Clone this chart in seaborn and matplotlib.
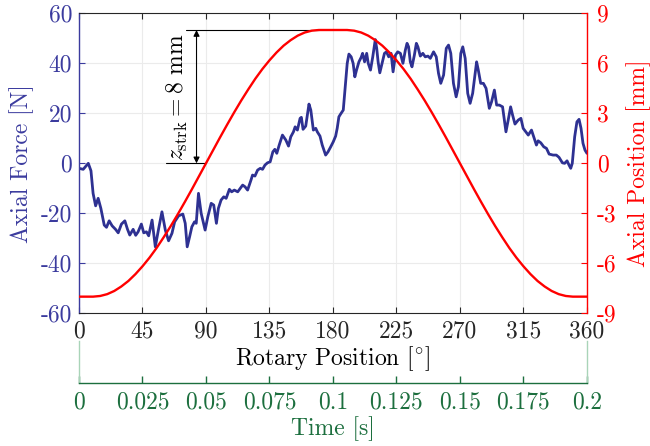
import numpy as np
import pandas as pd
import matplotlib
matplotlib.use("Agg")
import matplotlib.pyplot as plt
import seaborn as sns

# Rotary position [deg] and measured axial force [N]
force_angle = [
    0, 3, 6.6, 8.5, 10, 11.8, 13.6, 15.5, 17.9, 19.5, 21.4, 23.5, 25.9, 27.8,
    30.1, 32.5, 34.4, 36, 38.4, 40.2, 41.9, 44.2, 45.9, 47.8, 49.4, 51.8, 54.1,
    56.5, 58.8, 61.2, 63.5, 65.9, 67.8, 70.6, 73.6, 75.3, 76.7, 78.4, 80, 81.9,
    83.1, 84.7, 86.6, 89.4, 91.3, 93.7, 95.5, 97.4, 98.8, 100.7, 102.6, 104.3,
    106.6, 108.2, 110.1, 112.5, 114.3, 116, 117.7, 119.5, 121.9, 123, 124.7,
    126.6, 128.5, 130.1, 131.8, 133.6, 135.5, 137.4, 138.8, 140.2, 141.9, 144.2,
    146.6, 148.5, 150.1, 152, 153.2, 154.8, 156.7, 157.6, 158.8, 160.7, 163,
    164.3, 166.1, 167.8, 168.9, 170.8, 172.4, 174.8, 176.5, 178.4, 180.2, 181.9,
    183, 184.2, 185.4, 187.3, 188.5, 190.1, 191.3, 192.9, 194.3, 195.5, 196.7,
    198.4, 200, 201, 202.4, 203.9, 205, 206.6, 208.2, 210, 211, 212, 213.2,
    214.8, 216.5, 217.9, 219.5, 221.2, 222.6, 224.3, 225.9, 227.8, 229.6, 231.3,
    232.5, 233.6, 234.8, 236, 237.7, 239.1, 240.2, 241.9, 243.7, 245.4, 247.3,
    249, 251.3, 253.2, 254.8, 256.4, 258.4, 260.3, 261.9, 263.5, 265.4, 267.3,
    268.9, 270.6, 272, 273.7, 275.5, 277.2, 279, 281.8, 283, 284.7, 286.6, 288.5,
    290.8, 292.4, 294.4, 296, 297.9, 300.2, 302.6, 304.2, 305.9, 307.3, 309,
    311.3, 313.2, 314.8, 317.2, 318.4, 320.7, 322.6, 324.2, 325.4, 327.3, 329.4,
    331.3, 333.2, 336, 338.3, 340.2, 342.6, 344.2, 345.9, 347.3, 348.5, 349.6,
    351.3, 352.9, 354.4, 355.8, 357.2, 358.6, 360,
]
axial_force = [
    -2.0, -2.4, 0, -3, -12, -17, -14, -18, -24.7, -25.6, -23, -25, -26.4, -27.8,
    -24.3, -23, -26.4, -28.7, -26.4, -28.8, -27.4, -24.3, -27.8, -27.4, -29,
    -22.7, -33.4, -26, -19.4, -26.7, -31, -28, -23.4, -21, -20.3, -24, -33.4,
    -29.4, -25.4, -23.4, -24, -12, -20, -26.7, -21.4, -16, -16.7, -24, -18,
    -14.7, -13.4, -14, -10.4, -11.4, -10.7, -11.4, -10, -8.7, -9.4, -10.7, -6.7,
    -4.7, -5.1, -2.7, -2, -2.4, -0.7, 0.2, 0.6, 4.6, 5.6, 4, 7.3, 11.3, 9.3, 6.9,
    10.6, 12.6, 14.6, 13.3, 18, 18.4, 13.6, 14.9, 23.7, 21.3, 13.3, 14, 12.6,
    10.9, 7.3, 3.3, 4.6, 6.6, 8.6, 10.9, 14, 18.6, 19.7, 21.3, 29.3, 40, 43.7,
    42.6, 40, 34.6, 37.3, 40.6, 42.4, 44, 40.6, 44, 40, 37.3, 42.6, 49.5, 46,
    40.6, 36.2, 40, 44, 44.6, 42.6, 44, 36.6, 43.3, 44.6, 44, 40, 45.3, 48, 46.6,
    40.6, 38.6, 43.3, 48, 46.6, 42.9, 44, 42.6, 42.9, 42, 44.6, 42.6, 36, 32,
    35.3, 46, 47.3, 44, 32, 26.6, 30.6, 44, 46.6, 42, 28, 24, 28, 40.6, 37.3, 32,
    32, 30, 22, 24.6, 29.3, 23.3, 23.3, 22.6, 12.6, 17.3, 22.6, 19.3, 15.7, 17.3,
    18, 14, 12.2, 11.3, 13.3, 10, 7.3, 9, 8.2, 6.6, 6, 3.7, 3.3, 3.3, 2.4, 0.2,
    0, 1, -0.7, -2, 0, 10.6, 16.6, 17.6, 14, 8, 5.3, 4,
]

# Rotary position [deg] and cam stroke profile [mm]
position_angle = list(range(0, 361, 5))
axial_position = [
    -8, -8, -8, -7.96, -7.85, -7.66, -7.39, -7.06, -6.65, -6.18, -5.66, -5.08,
    -4.44, -3.77, -3.06, -2.32, -1.56, -0.78, 0, 0.78, 1.56, 2.32, 3.06, 3.77,
    4.44, 5.08, 5.66, 6.18, 6.65, 7.06, 7.39, 7.66, 7.85, 7.96, 8, 8, 8, 8, 8,
    7.96, 7.85, 7.66, 7.39, 7.06, 6.65, 6.18, 5.66, 5.08, 4.44, 3.77, 3.06,
    2.32, 1.56, 0.78, 0, -0.78, -1.56, -2.32, -3.06, -3.77, -4.44, -5.08, -5.66,
    -6.18, -6.65, -7.06, -7.39, -7.66, -7.85, -7.96, -8, -8, -8,
]

deg_ticks = [0, 45, 90, 135, 180, 225, 270, 315, 360]
force_ticks = [-60, -40, -20, 0, 20, 40, 60]
pos_ticks = [-9, -6, -3, 0, 3, 6, 9]
time_ticks = [0, 0.025, 0.05, 0.075, 0.1, 0.125, 0.15, 0.175, 0.2]
time_labels = ["0", "0.025", "0.05", "0.075", "0.1", "0.125", "0.15", "0.175", "0.2"]

stroke = 8  # mm

sns.set_style("white")
plt.rcParams["font.family"] = ["cmr10", "DejaVu Serif"]
plt.rcParams["mathtext.fontset"] = "cm"
plt.rcParams["axes.unicode_minus"] = False
plt.rcParams["axes.formatter.use_mathtext"] = True
plt.rcParams["xtick.bottom"] = True

NAVY = "#2E3192"
NAVY_TXT = "#3B3B9E"
RED = "#FF0000"
GREEN = "#1C6F3E"
LIGHT_GREEN = "#A9D4B8"
DARK = "#262626"
FS = 17

force_df = pd.DataFrame({"angle": force_angle, "force": axial_force})
pos_df = pd.DataFrame({"angle": position_angle, "position": axial_position})

fig = plt.figure(figsize=(6.5, 4.46), dpi=100)
left, width = 0.1215, 0.7815
ax = fig.add_axes([left, 0.2975, width, 0.6726])

sns.lineplot(data=force_df, x="angle", y="force", ax=ax, color=NAVY,
             linewidth=2.0, sort=False, estimator=None,
             solid_joinstyle="round", solid_capstyle="round")
ax.set_xlim(0, 360)
ax.set_ylim(-60, 60)
ax.set_xticks(deg_ticks)
ax.set_xticklabels([str(t) for t in deg_ticks])
ax.set_yticks(force_ticks)
ax.set_yticklabels([str(t) for t in force_ticks])
ax.grid(True, color="#EBEBEB", linewidth=0.8)
ax.set_axisbelow(True)
ax.tick_params(axis="x", direction="in", top=True, bottom=True, length=4,
               width=0.8, colors=DARK, labelsize=FS, pad=5)
ax.tick_params(axis="y", direction="in", left=True, length=4, width=0.8,
               colors=NAVY_TXT, labelsize=FS, pad=5)
ax.set_xlabel("Rotary Position [$^{\\circ}$]", fontsize=FS, color="black", labelpad=1)
ax.set_ylabel("Axial Force [N]", fontsize=FS, color=NAVY_TXT, labelpad=5)
for s in ("top", "bottom"):
    ax.spines[s].set_color(DARK)
    ax.spines[s].set_linewidth(0.8)
ax.spines["left"].set_color(NAVY_TXT)
ax.spines["left"].set_linewidth(1.0)
ax.spines["right"].set_visible(False)

ax2 = ax.twinx()
# stroke annotation: reference lines and dimension arrow
ax2.plot([76, 170], [stroke, stroke], color="black", linewidth=0.8, zorder=1)
ax2.plot([62, 90], [0, 0], color="black", linewidth=0.8, zorder=1)
ax2.annotate("", xy=(83.3, stroke), xytext=(83.3, 0),
             arrowprops=dict(arrowstyle="<|-|>", color="black", lw=0.8,
                             shrinkA=0, shrinkB=0, mutation_scale=9))
ax2.text(70, 4.0, "$z_{\\mathrm{strk}} = 8$ mm", rotation=90, ha="center",
         va="center", fontsize=FS, color="black")
sns.lineplot(data=pos_df, x="angle", y="position", ax=ax2, color=RED,
             linewidth=1.7, sort=False, estimator=None, zorder=3)
ax2.set_xlim(0, 360)
ax2.set_ylim(-9, 9)
ax2.set_yticks(pos_ticks)
ax2.set_yticklabels([str(t) for t in pos_ticks])
ax2.tick_params(axis="y", direction="in", right=True, length=4, width=0.8,
                colors=RED, labelsize=FS, pad=7)
ax2.set_ylabel("Axial Position [mm]", fontsize=FS, color=RED, labelpad=7)
ax2.set_xlabel("")
for s in ("top", "bottom", "left"):
    ax2.spines[s].set_visible(False)
ax2.spines["right"].set_color(RED)
ax2.spines["right"].set_linewidth(1.0)

# secondary time scale below the rotary axis
axt = fig.add_axes([left, 0.1413, width, 0.095])
axt.set_facecolor("none")
axt.set_xlim(0, 0.2)
axt.set_ylim(0, 1)
axt.set_yticks([])
axt.set_xticks(time_ticks)
axt.set_xticklabels(time_labels)
axt.tick_params(axis="x", which="major", direction="in", bottom=True, top=False,
                length=5, width=1.0, colors=GREEN, labelsize=FS, pad=6)
axt.set_xlabel("Time [s]", fontsize=FS, color=GREEN, labelpad=2)
axt.spines["top"].set_visible(False)
axt.spines["bottom"].set_color(GREEN)
axt.spines["bottom"].set_linewidth(1.0)
for s in ("left", "right"):
    axt.spines[s].set_visible(True)
    axt.spines[s].set_color(LIGHT_GREEN)
    axt.spines[s].set_linewidth(1.0)

fig.savefig("out.png", dpi=100, facecolor="white")
